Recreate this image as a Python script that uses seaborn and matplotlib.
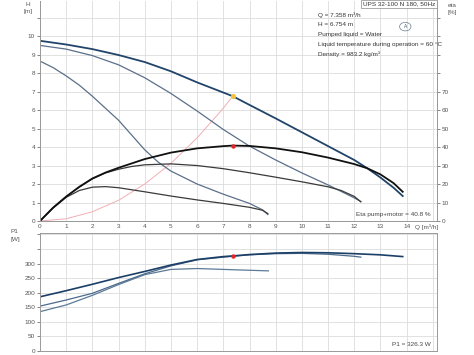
import numpy as np
import pandas as pd
import seaborn as sns
import matplotlib.pyplot as plt
from matplotlib.patches import Circle

# H curves (m) vs Q (m3/h)
q_hmax = [0, 1, 2, 3, 4, 5, 6, 7, 7.358, 8, 9, 10, 11, 12, 12.5, 13, 13.5, 13.85]
h_max = [9.75, 9.55, 9.3, 8.98, 8.6, 8.1, 7.5, 6.95, 6.754, 6.28, 5.55, 4.8, 4.05, 3.3, 2.85, 2.35, 1.8, 1.35]
q_hmid = [0, 1, 2, 3, 4, 5, 6, 7, 8, 9, 10, 11, 12, 12.25]
h_mid = [9.5, 9.3, 8.95, 8.45, 7.75, 6.9, 5.95, 4.95, 4.05, 3.3, 2.6, 1.95, 1.25, 1.05]
q_hlow = [0, 0.5, 1, 1.5, 2, 2.5, 3, 3.5, 4, 4.5, 5, 6, 7, 8, 8.5, 8.7]
h_low = [8.65, 8.3, 7.85, 7.35, 6.75, 6.1, 5.45, 4.65, 3.85, 3.2, 2.7, 2.0, 1.45, 0.95, 0.6, 0.35]

# efficiency curves (%)
q_emax = [0, 0.5, 1, 1.5, 2, 2.5, 3, 4, 5, 6, 7, 7.358, 8, 9, 10, 11, 12, 12.5, 13, 13.5, 13.85]
eta_max = [0, 7.2, 13.2, 18.5, 23, 26.2, 28.8, 33.5, 37, 39.3, 40.5, 40.8, 40.6, 39.3, 37.2, 34.3, 30.8, 28.5, 25.2, 20.5, 15.8]
q_emid = [0, 0.5, 1, 1.5, 2, 2.5, 3, 3.5, 4, 5, 6, 7, 8, 9, 10, 11, 11.5, 12, 12.25]
eta_mid = [0, 7.2, 13.2, 18.3, 22.8, 26, 28, 29.5, 30.4, 30.9, 30, 28.3, 26.1, 23.7, 21.2, 18.5, 16.5, 13.3, 10.4]
q_elow = [0, 0.5, 1, 1.5, 2, 2.5, 3, 4, 5, 6, 7, 8, 8.5, 8.7]
eta_low = [0, 7.0, 12.8, 16.5, 18.3, 18.6, 18, 15.8, 13.5, 11.4, 9.5, 7.4, 5.8, 4.0]

# system curve
q_sys = [0, 1, 2, 3, 4, 5, 6, 7, 7.358]
h_sys = [0, 0.12, 0.5, 1.12, 2.0, 3.12, 4.5, 6.1, 6.754]

# power curves (W)
q_pmax = [0, 1, 2, 3, 4, 5, 6, 7, 7.358, 8, 9, 10, 11, 12, 13, 13.85]
p_max = [186, 207, 229, 252, 273, 295, 314, 324, 326.3, 331, 336, 338, 337, 334, 330, 324]
q_pmid = [0, 1, 2, 3, 4, 5, 6, 7, 8, 9, 10, 11, 12, 12.25]
p_mid = [154, 175, 198, 232, 265, 292, 313, 322, 330, 334, 335, 332, 325, 322]
q_plow = [0, 1, 2, 3, 4, 5, 6, 7, 7.66, 8.72]
p_low = [135, 158, 191, 228, 262, 280, 283, 280, 278, 275]

duty_q, duty_h, duty_eta, duty_p = 7.358, 6.754, 40.8, 326.3

plt.rcParams['font.family'] = ['Liberation Sans', 'DejaVu Sans']
fs = 4.6
grid_c = '#dcdcdc'
spine_c = '#9a9a9a'
navy = '#21446a'
steel = '#5b7089'

fig = plt.figure(figsize=(4.74, 3.55), dpi=100)
ax = fig.add_axes([0.0844, 0.3775, 0.8376, 0.6195])
ax2 = ax.twinx()
axp = fig.add_axes([0.0844, 0.0113, 0.8376, 0.3324])

xmax = 15.16
for a in (ax, axp):
    a.set_xlim(0, xmax)
    a.set_xticks(range(0, 16))
    a.grid(True, color=grid_c, lw=0.6)
    a.set_axisbelow(True)
ax.set_ylim(0, 11.9)
ax2.set_ylim(0, 119)
axp.set_ylim(0, 405)

# top chart curves
sns.lineplot(x=q_sys, y=h_sys, ax=ax, color='#f2aeb5', lw=0.7)
sns.lineplot(x=q_hlow, y=h_low, ax=ax, color=steel, lw=0.9)
sns.lineplot(x=q_hmid, y=h_mid, ax=ax, color=steel, lw=0.9)
sns.lineplot(x=q_hmax, y=h_max, ax=ax, color=navy, lw=1.3)
sns.lineplot(x=q_elow, y=eta_low, ax=ax2, color='#3a3a3a', lw=0.9)
sns.lineplot(x=q_emid, y=eta_mid, ax=ax2, color='#3a3a3a', lw=0.9)
sns.lineplot(x=q_emax, y=eta_max, ax=ax2, color='#111111', lw=1.3)
ax.scatter([duty_q], [duty_h], s=14, color='#f3c33c', zorder=5, lw=0)
ax2.scatter([duty_q], [duty_eta], s=10, color='#e0262b', zorder=5, lw=0)

# bottom chart curves
sns.lineplot(x=q_plow, y=p_low, ax=axp, color='#5d7a97', lw=0.9)
sns.lineplot(x=q_pmid, y=p_mid, ax=axp, color='#4b6a8c', lw=0.9)
sns.lineplot(x=q_pmax, y=p_max, ax=axp, color='#1b3f66', lw=1.2)
axp.scatter([duty_q], [duty_p], s=10, color='#e0262b', zorder=5, lw=0)

# axes styling
ax.set_yticks(range(0, 12))
ax.set_yticklabels([str(i) if i <= 10 else '' for i in range(12)])
ax2.set_yticks(range(0, 120, 10))
ax2.set_yticklabels([str(i) if i <= 70 else '' for i in range(0, 120, 10)])
ax.set_xticklabels([str(i) if i <= 14 else '' for i in range(16)])
axp.set_xticklabels([])
axp.set_yticks(range(0, 401, 50))
axp.set_yticklabels([str(v) if v <= 300 else '' for v in range(0, 401, 50)])

for a in (ax, ax2, axp):
    a.tick_params(labelsize=fs, colors='#555555', length=2, width=0.5, pad=1.5)
    for s in a.spines.values():
        s.set_color(spine_c)
        s.set_linewidth(0.7)
    a.set_xlabel('')
    a.set_ylabel('')
ax.tick_params(axis='x', length=0, pad=2.5)
axp.tick_params(axis='x', length=0)
for a in (ax, ax2):
    a.spines['top'].set_visible(False)

# labels
fig.text(0.053, 0.995, 'H', fontsize=fs, color='#555555', va='top')
fig.text(0.050, 0.975, '[m]', fontsize=fs, color='#555555', va='top')
fig.text(0.945, 0.992, 'eta', fontsize=fs, color='#555555', va='top')
fig.text(0.945, 0.972, '[%]', fontsize=fs, color='#555555', va='top')
fig.text(0.023, 0.355, 'P1', fontsize=fs, color='#555555', va='top')
fig.text(0.023, 0.333, '[W]', fontsize=fs, color='#555555', va='top')
fig.text(0.876, 0.368, 'Q [m³/h]', fontsize=fs, color='#555555', va='top')

ax.text(0.985, 0.02, 'Eta pump+motor = 40.8 %', transform=ax.transAxes,
        fontsize=fs, color='#444444', ha='right', va='bottom')
axp.text(0.985, 0.03, 'P1 = 326.3 W', transform=axp.transAxes,
         fontsize=fs, color='#444444', ha='right', va='bottom')

info = ['Q = 7.358 m³/h', 'H = 6.754 m', 'Pumped liquid = Water',
        'Liquid temperature during operation = 60 °C', 'Density = 983.2 kg/m³']
for i, line in enumerate(info):
    fig.text(0.671, 0.965 - i * 0.0275, line, fontsize=fs, color='#333333', va='top')

fig.text(0.918, 0.995, 'UPS 32-100 N 180, 50Hz', fontsize=fs, color='#333333',
         ha='right', va='top',
         bbox=dict(boxstyle='square,pad=0.25', fc='white', ec='#888888', lw=0.5))

# small "A" marker
circ = Circle((0.855, 0.925), 0.012, transform=fig.transFigure, fill=False,
              ec='#6a7d90', lw=0.5)
fig.patches.append(circ)
fig.text(0.855, 0.925, 'A', fontsize=3.5, color='#445566', ha='center', va='center')

fig.savefig('out.png', dpi=100)
